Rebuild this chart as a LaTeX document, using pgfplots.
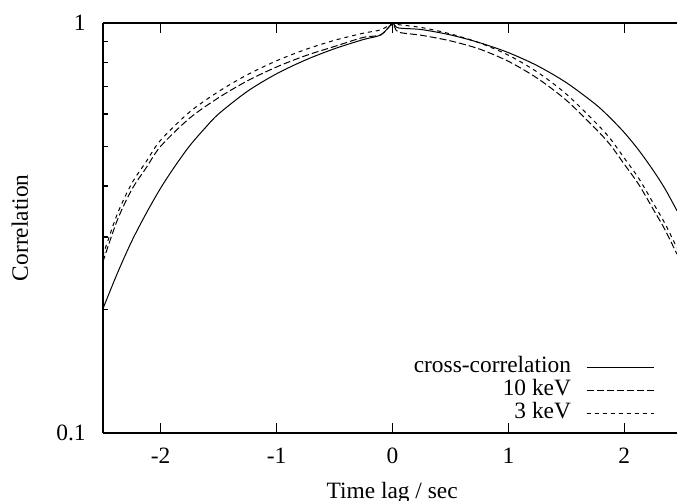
\documentclass[border=0pt]{standalone}
\usepackage{fontspec}
\setmainfont{Liberation Serif}
\usepackage{pgfplots}
\pgfplotsset{compat=1.18}
\begin{document}
\fontsize{11.7}{14}\selectfont
\begin{tikzpicture}
\begin{axis}[
  at={(0,0)}, anchor=south west,
  scale only axis, width=287.15pt, height=204.8pt,
  xmin=-2.5, xmax=2.455, ymin=0.1, ymax=1,
  ymode=log,
  separate axis lines,
  axis x line*=box, axis y line*=left,
  every outer x axis line/.style={line width=1pt},
  every outer y axis line/.style={line width=1pt},
  tick align=inside,
  xtick={-2,-1,0,1,2}, xticklabels={-2,-1,0,1,2},
  xtick pos=both,
  ytick={0.1,1}, yticklabels={0.1,1},
  minor ytick={0.2,0.3,0.4,0.5,0.6,0.7,0.8,0.9},
  ytick pos=left,
  major tick length=5pt, minor tick length=2.5pt,
  every tick/.style={black, line width=0.75pt},
  xticklabel style={anchor=base, yshift=-15.7pt, inner sep=0pt},
  yticklabel style={anchor=east, xshift=-8.35pt, inner sep=0pt},
  xlabel={Time lag / sec}, ylabel={Correlation},
  every axis x label/.style={at={(axis description cs:0.504,-0.1597)}, anchor=base},
  every axis y label/.style={at={(axis description cs:-0.1442,0.5)}, anchor=center, rotate=90},
  legend plot pos=right,
  legend cell align=right,
  legend image code/.code={\draw[#1] (0pt,0pt) -- (33.5pt,0pt);},
  legend style={draw=none, fill=none, inner sep=0pt, outer sep=0pt,
    at={(axis description cs:0.96,0.0198)}, anchor=south east,
    column sep=7.5pt,
    nodes={inner sep=0pt, text height=8.4pt, text depth=3pt}},
]
\addplot[black, line width=0.5pt, smooth] coordinates {
(-2.5,0.2000) (-2.375,0.2443) (-2.25,0.2931) (-2.125,0.3428) (-2.0,0.3954)
(-1.875,0.4477) (-1.75,0.5012) (-1.625,0.5508) (-1.5,0.5998) (-1.25,0.6816)
(-1.0,0.7516) (-0.75,0.8123) (-0.5,0.8654) (-0.25,0.9114) (-0.1,0.9354)
(0,0.995) (0.05,0.9727) (0.25,0.9638) (0.5,0.9352) (0.75,0.8956)
(1.0,0.8466) (1.25,0.7866) (1.5,0.7153) (1.75,0.6339) (1.875,0.5881)
(2.0,0.5402) (2.125,0.4892) (2.25,0.4366) (2.35,0.3945) (2.455,0.3481)
};
\addlegendentry{cross-correlation}
\addplot[black, line width=0.5pt, dash pattern=on 3.5pt off 1.5pt, smooth] coordinates {
(-2.5,0.2602) (-2.375,0.3296) (-2.25,0.3917) (-2.125,0.4430) (-2.0,0.5000)
(-1.75,0.5857) (-1.5,0.6572) (-1.25,0.7228) (-1.0,0.7811) (-0.75,0.8322)
(-0.5,0.8765) (-0.25,0.9226) (-0.1,0.9354) (0,0.995) (0.05,0.9506)
(0.25,0.9333) (0.5,0.9045) (0.75,0.8640) (1.0,0.8062) (1.25,0.7331)
(1.5,0.6478) (1.75,0.5528) (1.875,0.5058) (2.0,0.4521) (2.125,0.4034)
(2.25,0.3509) (2.35,0.3134) (2.455,0.2726)
};
\addlegendentry{10 keV}
\addplot[black, line width=0.5pt, dash pattern=on 2pt off 2pt, smooth] coordinates {
(-2.5,0.2695) (-2.375,0.3412) (-2.25,0.4055) (-2.125,0.4586) (-2.0,0.5176)
(-1.75,0.6064) (-1.5,0.6803) (-1.25,0.7482) (-1.0,0.8086) (-0.75,0.8616)
(-0.5,0.9072) (-0.25,0.9445) (-0.1,0.9625) (0,0.998) (0.05,0.9908)
(0.25,0.9750) (0.5,0.9406) (0.75,0.8944) (1.0,0.8346) (1.25,0.7589)
(1.5,0.6706) (1.75,0.5723) (1.875,0.5236) (2.0,0.4680) (2.125,0.4176)
(2.25,0.3633) (2.35,0.3244) (2.455,0.2822)
};
\addlegendentry{3 keV}
\end{axis}
\pgfresetboundingbox
\path (-51.35pt,-34.2pt) rectangle (287.15pt,216.3pt);
\end{tikzpicture}
\end{document}
